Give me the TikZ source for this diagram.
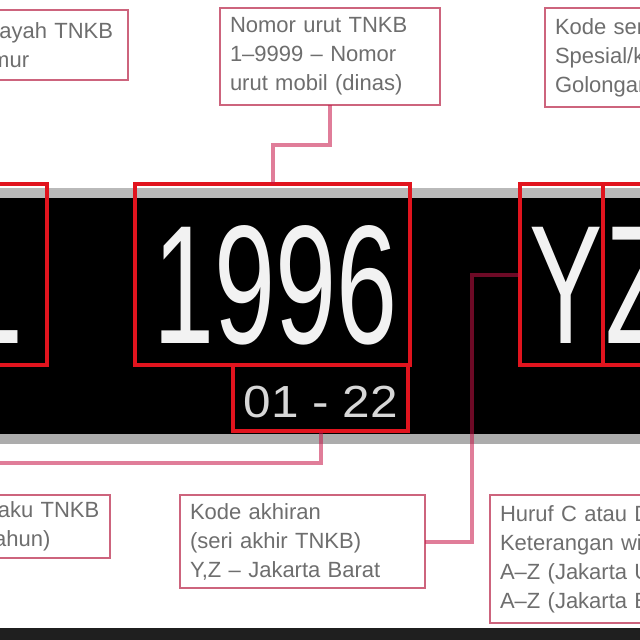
\documentclass[tikz,border=0pt]{standalone}
\usepackage{fontspec}
\setmainfont{Liberation Sans}
\usepackage{graphicx}
\definecolor{plred}{RGB}{225,20,30}
\definecolor{conn}{RGB}{200,20,70}
\definecolor{annb}{RGB}{205,100,125}
\definecolor{anntext}{RGB}{110,110,110}
\definecolor{digitw}{RGB}{242,242,242}
\definecolor{smallw}{RGB}{215,215,215}
\begin{document}
\begin{tikzpicture}[x=1pt,y=-1pt,
  redbox/.style={draw=plred, line width=4pt, inner sep=0pt, outer sep=0pt},
  digit/.style={text=digitw, inner sep=0pt, outer sep=0pt, font=\fontsize{169}{169}\selectfont},
  annot/.style={draw=annb, line width=2.5pt, fill=white, text=anntext, align=left,
    inner xsep=10pt, inner ysep=0pt, outer sep=0pt, font=\fontsize{22}{29}\selectfont},
  connector/.style={draw=conn, draw opacity=0.55, line width=4pt}
]
\useasboundingbox (0,0) rectangle (640,640);
\clip (0,0) rectangle (640,640);
\fill[white] (0,0) rectangle (640,640);
% plate
\fill[black] (-10,190) rectangle (650,440);
\fill[gray!55] (-10,188) rectangle (650,198);
\fill[gray!65] (-10,434) rectangle (650,444);
\fill[black!88] (-10,628) rectangle (650,645);
% characters
\node[digit, anchor=base west] (tL) at (-39,343) {\scalebox{0.65}[1]{L}};
\node[digit, anchor=base] (t1996) at (275.5,343) {\scalebox{0.65}[1]{1996}};
\node[digit, anchor=base] (tY) at (566,343) {\scalebox{0.65}[1]{Y}};
\node[digit, anchor=base west] (tZ) at (605,343) {\scalebox{0.65}[1]{Z}};
\node[text=smallw, inner sep=0pt, anchor=base, font=\fontsize{45}{45}\selectfont] (t0122) at (321,417) {\scalebox{1.1}[1]{01 - 22}};
% red highlight boxes
\node[redbox, minimum width=57pt, minimum height=181pt] (bL) at (18.5,274.5) {};
\node[redbox, minimum width=275pt, minimum height=181pt] (b1996) at (272.5,274.5) {};
\node[redbox, minimum width=83pt, minimum height=181pt] (bY) at (561.5,274.5) {};
\node[redbox, minimum width=67pt, minimum height=181pt] (bZ) at (636.5,274.5) {};
\node[redbox, minimum width=175pt, minimum height=66pt] (b0122) at (320.5,398) {};
% annotation boxes
\node[annot, text width=203pt, minimum height=70pt] (tl) at (16.5,45) {Kode wilayah TNKB\\Jawa Timur};
\node[annot, text width=200pt, minimum height=97pt] (tc) at (330,56.5) {Nomor urut TNKB\\1–9999 – Nomor\\urut mobil (dinas)};
\node[annot, text width=210pt, minimum height=99pt] (tr) at (660,57.5) {Kode seri TNKB\\Spesial/khusus\\Golongan kendaraan};
\node[annot, text width=200pt, minimum height=63pt] (bl) at (0,526.5) {Masa berlaku TNKB\\(bulan – tahun)};
\node[annot, text width=225pt, minimum height=93pt] (bc) at (302.5,541.5) {Kode akhiran\\(seri akhir TNKB)\\Y,Z – Jakarta Barat};
\node[annot, text width=220pt, minimum height=128pt] (br) at (610,559) {Huruf C atau D\\Keterangan wilayah\\A–Z (Jakarta Utara)\\A–Z (Jakarta Barat)};
% connectors
\coordinate (cL) at (-20,463);
\draw[connector] (tc.south) -- ++(0,40) -| (b1996.north);
\draw[connector] (bY.west) -- ++(-48,0) |- (bc.east);
\draw[connector] (b0122.south) |- (cL);
\end{tikzpicture}
\end{document}
